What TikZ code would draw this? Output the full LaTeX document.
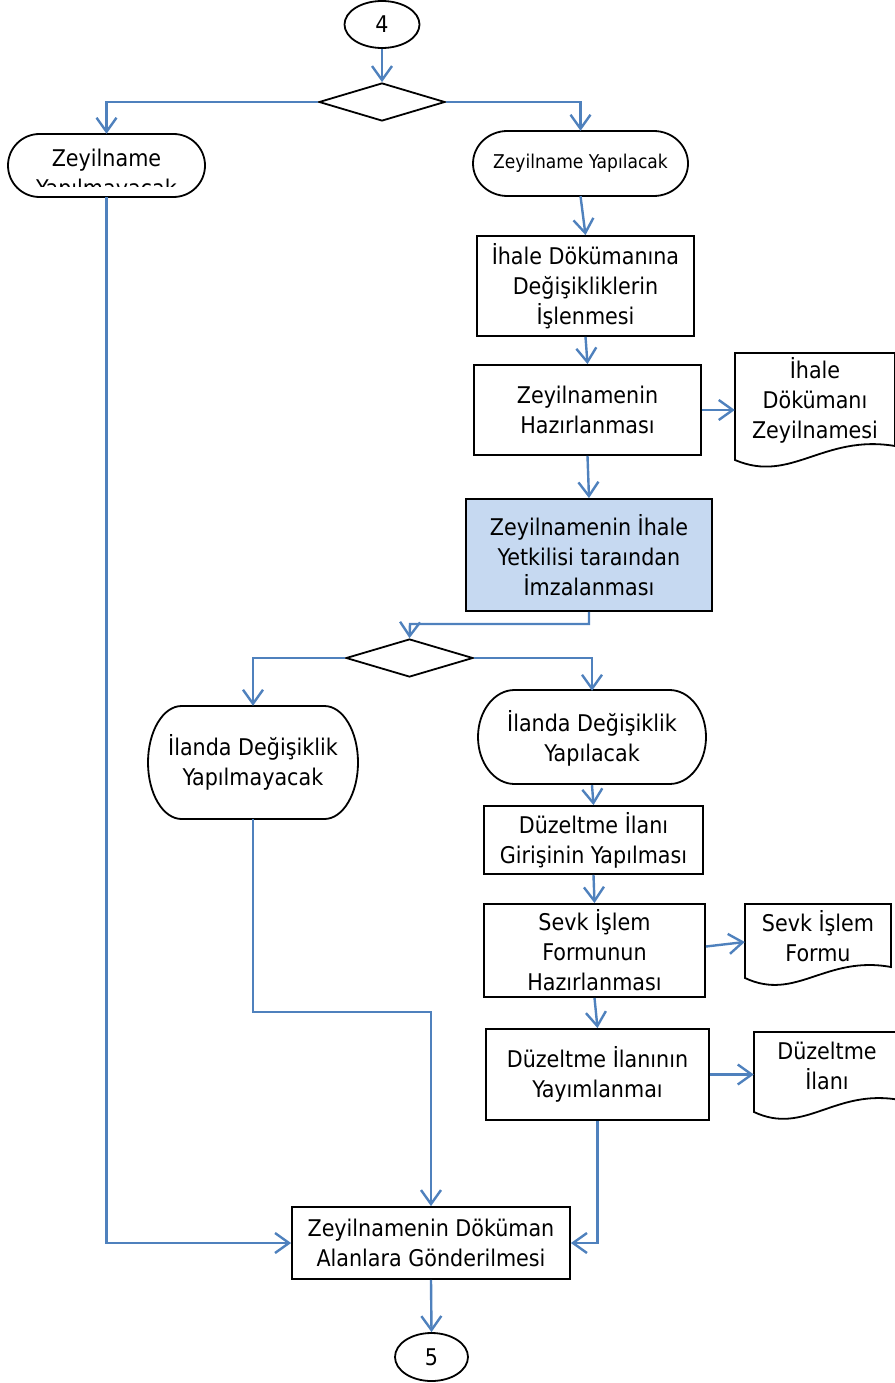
\documentclass[tikz,border=0pt]{standalone}
\usepackage{fontspec}
\setmainfont{DejaVu Sans Condensed}
\usetikzlibrary{arrows.meta,shapes.geometric,calc}
\definecolor{lnblue}{HTML}{4F81BD}
\definecolor{fillblue}{HTML}{C6D9F1}
\newcommand\mainsz{\fontsize{23bp}{30bp}\selectfont}
\newcommand\smallsz{\fontsize{19bp}{24bp}\selectfont}
\newcommand\termshape[4]{%
 \pgfmathsetmacro\tmRX{0.16*(#3-#1)}%
 \pgfmathsetmacro\tmRY{(#4-#2)/2}%
 \pgfmathsetmacro\tmCY{(#2+#4)/2}%
 \pgfmathsetmacro\tmXA{#1+\tmRX}%
 \pgfmathsetmacro\tmXB{#3-\tmRX}%
 \pgfmathsetmacro\tmKX{0.5523*\tmRX}%
 \pgfmathsetmacro\tmKY{0.5523*\tmRY}%
 \draw[shp] (\tmXA,#2) -- (\tmXB,#2) .. controls ({\tmXB+\tmKX},#2) and (#3,{\tmCY-\tmKY}) .. (#3,\tmCY)
   .. controls (#3,{\tmCY+\tmKY}) and ({\tmXB+\tmKX},#4) .. (\tmXB,#4) -- (\tmXA,#4)
   .. controls ({\tmXA-\tmKX},#4) and (#1,{\tmCY+\tmKY}) .. (#1,\tmCY)
   .. controls (#1,{\tmCY-\tmKY}) and ({\tmXA-\tmKX},#2) .. cycle;}
\newcommand\docshape[5]{%
 \pgfmathsetmacro\tmDW{#3-#1}%
 \draw[shp] (#1,#2) -- (#3,#2) -- (#3,#5) .. controls ({#1+0.55*\tmDW},{#5-12}) and ({#1+0.35*\tmDW},{#4+24}) .. (#1,#4) -- cycle;}
\begin{document}
\begin{tikzpicture}[x=1bp,y=-1bp,
  shp/.style={draw=black,line width=1.8bp},
  box/.style={shp,rectangle,align=center,inner sep=0pt,font=\mainsz},
  ghost/.style={rectangle,inner sep=0pt,align=center,font=\mainsz},
  dec/.style={shp,diamond,inner sep=0pt},
  conn/.style={draw=lnblue,line width=2.4bp,-{Straight Barb[length=14bp,width=20bp]}},
  link/.style={draw=lnblue,line width=2.4bp}]
\useasboundingbox (0,0) rectangle (894,1383);

\node[shp,ellipse,minimum width=75bp,minimum height=47bp,inner sep=0pt,font=\mainsz] (c4) at (382,24.5) {4};
\node[dec,minimum width=126bp,minimum height=38bp] (d1) at (382,102) {};

\termshape{8}{134}{205}{197}
\node[ghost,minimum width=197bp,minimum height=63bp] (t1) at (106.5,165.5) {};
\begin{scope}
  \clip (8,134) rectangle (205,187);
  \node[ghost] (t1txt) at (106.5,175) {Zeyilname\\Yapılmayacak};
\end{scope}
\termshape{473}{131}{688}{196}
\node[ghost,font=\smallsz,minimum width=215bp,minimum height=65bp] (t2) at (580.5,163.5) {Zeyilname Yapılacak};

\node[box,minimum width=217bp,minimum height=100bp] (b1) at (585.5,286) {İhale Dökümanına\\Değişikliklerin\\İşlenmesi};
\node[box,minimum width=227bp,minimum height=90bp] (b2) at (587.5,410) {Zeyilnamenin\\Hazırlanması};
\docshape{735}{353}{895}{460}{446}
\node[ghost,minimum width=160bp,minimum height=94bp] (doc1) at (815,400) {İhale\\Dökümanı\\Zeyilnamesi};
\node[box,fill=fillblue,minimum width=246bp,minimum height=112bp] (b3) at (589,555) {Zeyilnamenin İhale\\Yetkilisi taraından\\İmzalanması};

\node[dec,minimum width=127bp,minimum height=38bp] (d2) at (409.5,658) {};
\coordinate (j1) at (410,624);

\termshape{148}{706}{358}{819}
\node[ghost,minimum width=210bp,minimum height=113bp] (t3) at (253,762.5) {İlanda Değişiklik\\Yapılmayacak};
\termshape{478}{690}{706}{784}
\node[ghost,minimum width=228bp,minimum height=94bp] (t4) at (592,738) {İlanda Değişiklik\\Yapılacak};

\node[box,minimum width=219bp,minimum height=68bp] (b4) at (593.5,840) {Düzeltme İlanı\\Girişinin Yapılması};
\node[box,minimum width=221bp,minimum height=93bp] (b5) at (594.5,950.5) {Sevk İşlem\\Formunun\\Hazırlanması};
\docshape{745}{904}{891}{978}{967}
\node[ghost,minimum width=146bp,minimum height=64bp] (doc2) at (818,936) {Sevk İşlem\\Formu};
\node[box,minimum width=223bp,minimum height=91bp] (b6) at (597.5,1074.5) {Düzeltme İlanının\\Yayımlanmaı};
\docshape{754}{1032}{900}{1112}{1100}
\node[ghost,minimum width=146bp,minimum height=68bp] (doc3) at (827,1066) {Düzeltme\\İlanı};

\node[box,minimum width=278bp,minimum height=72bp] (b7) at (431,1243) {Zeyilnamenin Döküman\\Alanlara Gönderilmesi};
\node[shp,ellipse,minimum width=73bp,minimum height=48bp,inner sep=0pt,font=\mainsz] (c5) at (431.5,1357) {5};
\coordinate (j2) at (431,1012);

\draw[conn] (c4) -- (d1);
\draw[conn] (d1.west) -| (t1.north);
\draw[conn] (d1.east) -| (t2.north);
\draw[conn] (t2.south) -- (b1.north);
\draw[conn] (b1.south) -- (b2.north);
\draw[conn] (b2.east) -- (b2.east -| doc1.west);
\draw[conn] (b2.south) -- (b3.north);
\draw[conn] (b3.south) |- (j1) -- (d2.north);
\draw[conn] (d2.west) -| (t3.north);
\draw[conn] (d2.east) -| (t4.north);
\draw[conn] (t4.south) -- (b4.north);
\draw[conn] (b4.south) -- (b5.north);
\draw[conn] ([yshift=4bp]b5.east) -- ([yshift=-6bp]doc2.west);
\draw[conn] (b5.south) -- (b6.north);
\draw[conn] (b6.east) -- (b6.east -| doc3.west);
\draw[conn] (b6.south) |- (b7.east);
\draw[conn] (t1.south) |- (b7.west);
\draw[conn] (t3.south) |- (j2) -- (b7.north);
\draw[conn] (b7.south) -- (c5.north);
\end{tikzpicture}
\end{document}
